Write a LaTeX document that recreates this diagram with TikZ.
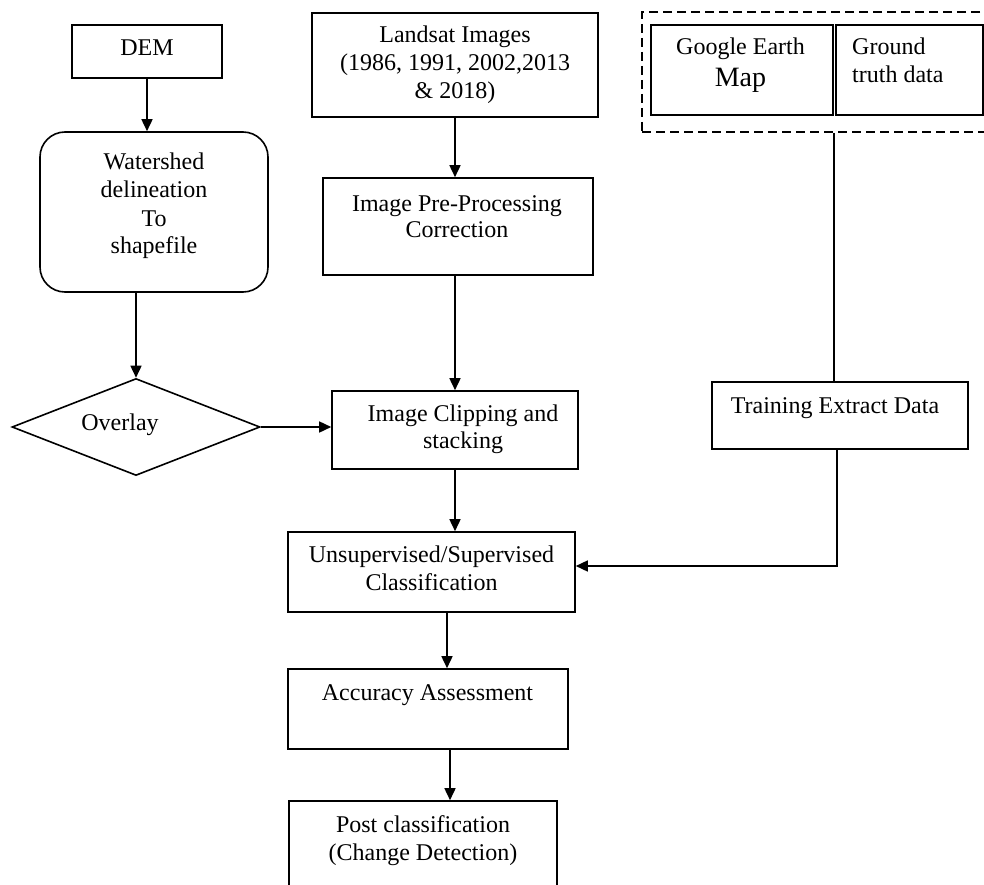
\documentclass[tikz,border=0pt]{standalone}
\usepackage{fontspec}
\setmainfont{Liberation Serif}
\usetikzlibrary{arrows.meta,shapes.geometric}
\begin{document}
\begin{tikzpicture}[x=1pt,y=-1pt,
  box/.style={draw, line width=1.6pt, rectangle, inner sep=0pt},
  dia/.style={draw, line width=1.6pt, diamond, inner sep=0pt},
  grpbox/.style={draw, line width=1.6pt, rectangle, inner sep=0pt, dash pattern=on 9pt off 5pt},
  txt/.style={anchor=base, align=center, inner sep=0pt, font=\fontsize{24}{28}\selectfont},
  arr/.style={line width=1.6pt, -{Triangle[length=12pt,width=11pt]}},
  link/.style={line width=1.6pt}]
\useasboundingbox (0,0) rectangle (984,885);
\begin{scope}
\clip (0,0) rectangle (984,885);
% boxes
\node[box, minimum width=150pt, minimum height=53pt] (dem) at (147,51.5) {};
\node[box, rounded corners=25pt, minimum width=228pt, minimum height=160pt] (ws) at (154,212) {};
\node[dia, minimum width=248pt, minimum height=97pt] (ov) at (136,427) {};
\node[box, minimum width=286pt, minimum height=104pt] (ls) at (455,65) {};
\node[box, minimum width=270pt, minimum height=97pt] (pp) at (458,226.5) {};
\node[box, minimum width=246pt, minimum height=78pt] (clip) at (455,430) {};
\node[box, minimum width=287pt, minimum height=80pt] (uns) at (431.5,572) {};
\node[box, minimum width=280pt, minimum height=80pt] (acc) at (428,709) {};
\node[box, minimum width=268pt, minimum height=119pt] (post) at (423,860.5) {};
\node[grpbox, minimum width=368pt, minimum height=120pt] (grp) at (826,72) {};
\node[box, minimum width=182pt, minimum height=90pt] (ge) at (742,70) {};
\node[box, minimum width=147pt, minimum height=90pt] (gt) at (909.5,70) {};
\node[box, minimum width=256pt, minimum height=67pt] (tr) at (840,415.5) {};
% texts (anchor base = baseline of last line)
\node[txt] (tdem) at (147,56) {DEM};
\node[txt] (tws) at (154,254) {Watershed\\delineation\\To\\shapefile};
\node[txt] (tov) at (120,430) {Overlay};
\node[txt] (tls) at (455,99) {Landsat Images\\(1986, 1991, 2002,2013\\\& 2018)};
\node[txt, font=\fontsize{24}{26}\selectfont] (tpp) at (457,237) {Image Pre-Processing\\Correction};
\node[txt, font=\fontsize{24}{27}\selectfont] (tclip) at (463,448) {Image Clipping and\\stacking};
\node[txt] (tuns) at (431.5,590) {Unsupervised/Supervised\\Classification};
\node[txt] (tacc) at (427.5,700) {Accuracy Assessment};
\node[txt] (tpost) at (423,860) {Post classification\\(Change Detection)};
\node[txt] (tge1) at (740.5,55) {Google Earth};
\node[txt, font=\fontsize{28}{32}\selectfont] (tge2) at (740.5,87) {Map};
\node[txt, align=left, anchor=base west] (tgt) at (852,83) {Ground\\truth data};
\node[txt] (ttr) at (835,413) {Training Extract Data};
% connectors
\draw[arr] (dem.south) -- (dem.south |- ws.north);
\draw[arr] (ws.south -| ov.north) -- (ov.north);
\draw[arr] (ov.east) -- (ov.east -| clip.west);
\draw[arr] (ls.south) -- (ls.south |- pp.north);
\draw[arr] (pp.south -| clip.north) -- (clip.north);
\draw[arr] (clip.south) -- (clip.south |- uns.north);
\draw[arr] ([xshift=15.5pt]uns.south) -- ([xshift=15.5pt]uns.south |- acc.north);
\draw[arr] ([xshift=22pt]acc.south) -- ([xshift=22pt]acc.south |- post.north);
\draw[link] (ge.east |- grp.south) -- (ge.east |- tr.north);
\draw[arr] ([xshift=-3pt]tr.south) |- ([yshift=6pt]uns.east);
\end{scope}
\end{tikzpicture}
\end{document}
